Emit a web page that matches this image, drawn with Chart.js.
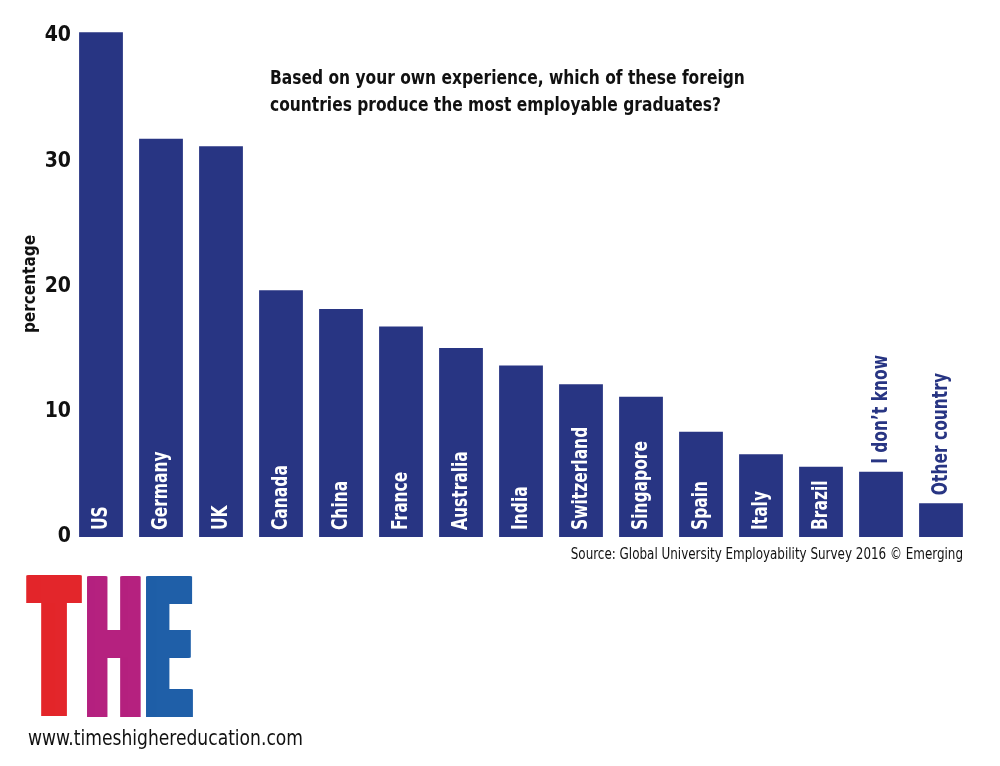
<!DOCTYPE html>
<html>
<head>
<meta charset="utf-8">
<script src="https://cdn.jsdelivr.net/npm/chart.js@4"></script>
<style>
html,body{margin:0;padding:0;background:#fff;}
#wrap{width:1000px;height:766px;}
</style>
</head>
<body>
<div id="wrap"><canvas id="c" width="1000" height="766"></canvas></div>
<script>
const categories = ["US","Germany","UK","Canada","China","France","Australia","India","Switzerland","Singapore","Spain","Italy","Brazil","I don\u2019t know","Other country"];
const percentages = [40.3,31.8,31.2,19.7,18.2,16.8,15.1,13.7,12.2,11.2,8.4,6.6,5.6,5.2,2.7];
const yTicks = [0,10,20,30,40];
const titleLines = ["Based on your own experience, which of these foreign","countries produce the most employable graduates?"];
const sourceText = "Source: Global University Employability Survey 2016 \u00a9 Emerging";
const websiteText = "www.timeshighereducation.com";
const logoLetters = ["T","H","E"];
const logoColors = ["#e3262b","#b5217f","#1f5fa8"];

const FONT = "'DejaVu Sans Condensed','Liberation Sans Narrow',sans-serif";
const BAR = "#283583";

function stretchText(ctx, text, x, y, sx) {
  ctx.save();
  ctx.translate(x, y);
  ctx.scale(sx, 1);
  ctx.fillText(text, 0, 0);
  ctx.restore();
}

const annotate = {
  id: 'annotate',
  afterDatasetsDraw(chart) {
    const ctx = chart.ctx;
    const meta = chart.getDatasetMeta(0);
    const base = chart.scales.y.getPixelForValue(0);
    const S = 0.82;
    ctx.save();
    ctx.font = "bold 21px " + FONT;
    meta.data.forEach((bar, i) => {
      const label = categories[i];
      const w = ctx.measureText(label).width * S;
      const h = base - bar.y;
      ctx.save();
      let y;
      if (w + 9 < h) { ctx.fillStyle = "#ffffff"; y = base - 7; }
      else { ctx.fillStyle = BAR; y = bar.y - 8; }
      ctx.translate(bar.x, y);
      ctx.rotate(-Math.PI/2);
      ctx.scale(S, 1);
      ctx.textAlign = 'left';
      ctx.textBaseline = 'middle';
      ctx.fillText(label, 0, 1);
      ctx.restore();
    });
    ctx.restore();
  },
  afterDraw(chart) {
    const ctx = chart.ctx;
    ctx.save();
    ctx.fillStyle = "#111";
    ctx.textBaseline = 'alphabetic';
    ctx.textAlign = 'left';
    ctx.font = "bold 20px " + FONT;
    stretchText(ctx, titleLines[0], 270, 84, 0.86);
    stretchText(ctx, titleLines[1], 270, 111, 0.86);
    ctx.font = "16px " + FONT;
    const sw = ctx.measureText(sourceText).width * 0.83;
    stretchText(ctx, sourceText, 963 - sw, 559, 0.83);
    ctx.font = "22px " + FONT;
    const ww = ctx.measureText(websiteText).width;
    stretchText(ctx, websiteText, 28, 745, 275/ww);
    // logo letters
    const boxes = [[26,82],[87,141],[146,193]];
    const smear = [14, 7, 10];
    const top = 576, bottom = 717;
    ctx.font = "bold 200px 'DejaVu Sans', sans-serif";
    logoLetters.forEach((L, i) => {
      const k = smear[i];
      const m = ctx.measureText(L);
      const lw = m.actualBoundingBoxRight + m.actualBoundingBoxLeft;
      const lh = m.actualBoundingBoxAscent + m.actualBoundingBoxDescent;
      const sx = (boxes[i][1]-boxes[i][0]-k) / lw;
      const sy = (bottom-top) / lh;
      ctx.fillStyle = logoColors[i];
      for (let d = 0; d <= k; d += 0.5) {
        ctx.save();
        ctx.translate(boxes[i][0] + d, bottom);
        ctx.scale(sx, sy);
        ctx.fillText(L, m.actualBoundingBoxLeft, -m.actualBoundingBoxDescent);
        ctx.restore();
      }
    });
    ctx.restore();
  }
};

new Chart(document.getElementById('c'), {
  type: 'bar',
  data: {
    labels: categories,
    datasets: [{
      data: percentages,
      backgroundColor: BAR,
      borderWidth: 0,
      barPercentage: 0.73,
      categoryPercentage: 1.0
    }]
  },
  options: {
    responsive: false,
    animation: false,
    events: [],
    layout: { padding: { left: 0, top: 31, right: 29, bottom: 229 } },
    plugins: { legend: { display: false }, tooltip: { enabled: false }, title: { display: false } },
    scales: {
      x: {
        display: true,
        grid: { display: false, drawTicks: false },
        border: { display: false },
        ticks: { display: false }
      },
      y: {
        min: 0, max: 40.4,
        afterBuildTicks(scale) { scale.ticks = yTicks.map(v => ({ value: v })); },
        afterFit(scale) { scale.width = 71; },
        grid: { display: false, drawTicks: false },
        border: { display: false },
        ticks: { color: '#111', padding: 0, font: { family: FONT, size: 21, weight: 'bold' } },
        title: { display: true, text: 'percentage', color: '#111', padding: { top: 20, bottom: 0 }, font: { family: FONT, size: 17, weight: 'bold' } }
      }
    }
  },
  plugins: [annotate]
});
</script>
</body>
</html>
